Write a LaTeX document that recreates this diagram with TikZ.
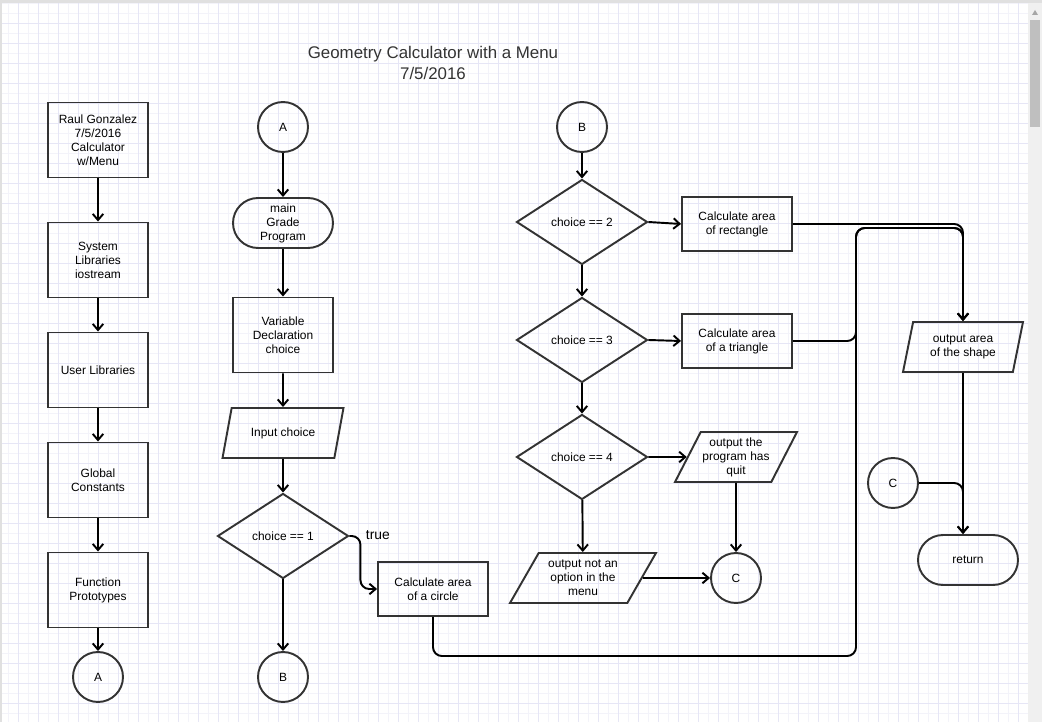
\documentclass[tikz,border=0pt]{standalone}
\usepackage{fontspec}
\setmainfont{Liberation Sans}
\usetikzlibrary{shapes.geometric,arrows.meta}

\definecolor{gridminor}{HTML}{F3F3FA}
\definecolor{gridmajor}{HTML}{E6E6F6}
\definecolor{edge}{HTML}{333333}

\begin{document}
\begin{tikzpicture}[x=0.02cm, y=-0.02cm,
    every node/.style={draw=edge, line width=1.1pt, text=black, align=center, inner sep=1pt,
        font=\fontsize{6.8}{8}\selectfont},
    box/.style={rectangle, minimum width=2cm, minimum height=1.5cm},
    calcbox/.style={rectangle, minimum width=2.2cm, minimum height=1.08cm},
    term/.style={rectangle, rounded corners=0.5cm, minimum width=2cm, minimum height=1cm},
    io/.style 2 args={trapezium, trapezium left angle=#1, trapezium right angle=#2,
        trapezium stretches body, minimum height=1cm},
    dec/.style={diamond, inner sep=0pt, minimum width=2.62cm, minimum height=1.7cm},
    conn/.style={circle, inner sep=0pt, minimum size=1cm},
    arr/.style={-{Straight Barb[length=3.5pt,width=6pt]}, line width=1.1pt, rounded corners=5pt},
    plain/.style={draw=none, inner sep=0pt}]

    % background grid and window frame
    \useasboundingbox (0,0) rectangle (1042,722);
    \foreach \x in {8,28,...,1028} \draw[gridminor, line width=0.5pt] (\x,0) -- (\x,722);
    \foreach \y in {3,13,...,722} \draw[gridminor, line width=0.5pt] (0,\y) -- (1028,\y);
    \foreach \x in {18,38,...,1028} \draw[gridmajor, line width=0.5pt] (\x,0) -- (\x,722);
    \foreach \y in {23,43,...,722} \draw[gridmajor, line width=0.5pt] (0,\y) -- (1028,\y);
    \fill[black!12] (0,0) rectangle (1042,3);
    \fill[black!12] (0,0) rectangle (2,722);
    \fill[black!6] (1028,3) rectangle (1042,722);
    \fill[black!25] (1030,20) rectangle (1040,127);
    \fill[black!35] (1032,15) -- (1038,15) -- (1035,10) -- cycle;

    % title
    \node[plain, text=edge, font=\fontsize{9.6}{11.9}\selectfont] (title) at (433,63)
        {Geometry Calculator with a Menu\\7/5/2016};

    % left column
    \node[box] (head) at (98,140) {Raul Gonzalez\\7/5/2016\\Calculator\\w/Menu};
    \node[box] (syslib) at (98,260) {System\\Libraries\\iostream};
    \node[box] (usrlib) at (98,370) {User Libraries};
    \node[box] (glob) at (98,480) {Global\\Constants};
    \node[box] (proto) at (98,590) {Function\\Prototypes};
    \node[conn] (aout) at (98,677) {A};

    % main column
    \node[conn] (ain) at (283,127) {A};
    \node[term] (main) at (283,223) {main\\Grade\\Program};
    \node[box] (vars) at (283,335) {Variable\\Declaration\\choice};
    \node[io={58}{122}, minimum width=2.42cm] (input) at (283,433) {Input choice};
    \node[dec] (ch1) at (283,536) {choice == 1};
    \node[conn] (bout) at (283,677) {B};
    \node[calcbox] (circ) at (433,589) {Calculate area\\of a circle};
    \node[plain, font=\fontsize{7.9}{9}\selectfont, anchor=west] (true) at (365,535) {true};

    % menu column
    \node[conn] (bin) at (582,127) {B};
    \node[dec] (ch2) at (582,222) {choice == 2};
    \node[dec] (ch3) at (582,340) {choice == 3};
    \node[dec] (ch4) at (582,457) {choice == 4};
    \node[calcbox] (rect) at (737,224) {Calculate area\\of rectangle};
    \node[calcbox] (tri) at (737,341) {Calculate area\\of a triangle};
    \node[io={59}{121}, minimum width=2.38cm] (quit) at (736,457) {output the\\program has\\quit};
    \node[io={54}{126}, minimum width=2.92cm] (nopt) at (583,578) {output not an\\option in the\\menu};
    \node[conn] (cout) at (736,578) {C};

    % output column
    \node[io={70}{110}, minimum width=2.4cm] (out) at (963,347) {output area\\of the shape};
    \node[conn] (cin) at (893,483) {C};
    \node[term] (ret) at (968,560) {return};
    \coordinate (bus) at (856,228);
    \coordinate (busb) at (856,656);

    % connectors
    \draw[arr] (head) -- (syslib);
    \draw[arr] (syslib) -- (usrlib);
    \draw[arr] (usrlib) -- (glob);
    \draw[arr] (glob) -- (proto);
    \draw[arr] (proto) -- (aout);
    \draw[arr] (ain) -- (main);
    \draw[arr] (main) -- (vars);
    \draw[arr] (vars) -- (input);
    \draw[arr] (input) -- (ch1);
    \draw[arr] (ch1) -- (bout);
    \draw[arr] (ch1.east) -- ++(11,0) |- (circ.west);
    \draw[arr] (bin) -- (ch2);
    \draw[arr] (ch2) -- (ch3);
    \draw[arr] (ch3) -- (ch4);
    \draw[arr] (ch4) -- (nopt);
    \draw[arr] (ch2.east) -- (rect.west);
    \draw[arr] (ch3.east) -- (tri.west);
    \draw[arr] (ch4.east) -- (quit.west);
    \draw[arr] (quit.south) -- (cout.north);
    \draw[arr] (nopt.east) -- (cout.west);
    \draw[arr] (rect.east) -| (out.north);
    \draw[arr] (tri.east) -| (bus) -| (out.north);
    \draw[arr] (circ.south) |- (busb) -- (bus) -| (out.north);
    \draw[arr] (out.south) -- (out.south |- ret.north);
    \draw[arr] (cin.east) -| (out.south |- ret.north);
\end{tikzpicture}
\end{document}
